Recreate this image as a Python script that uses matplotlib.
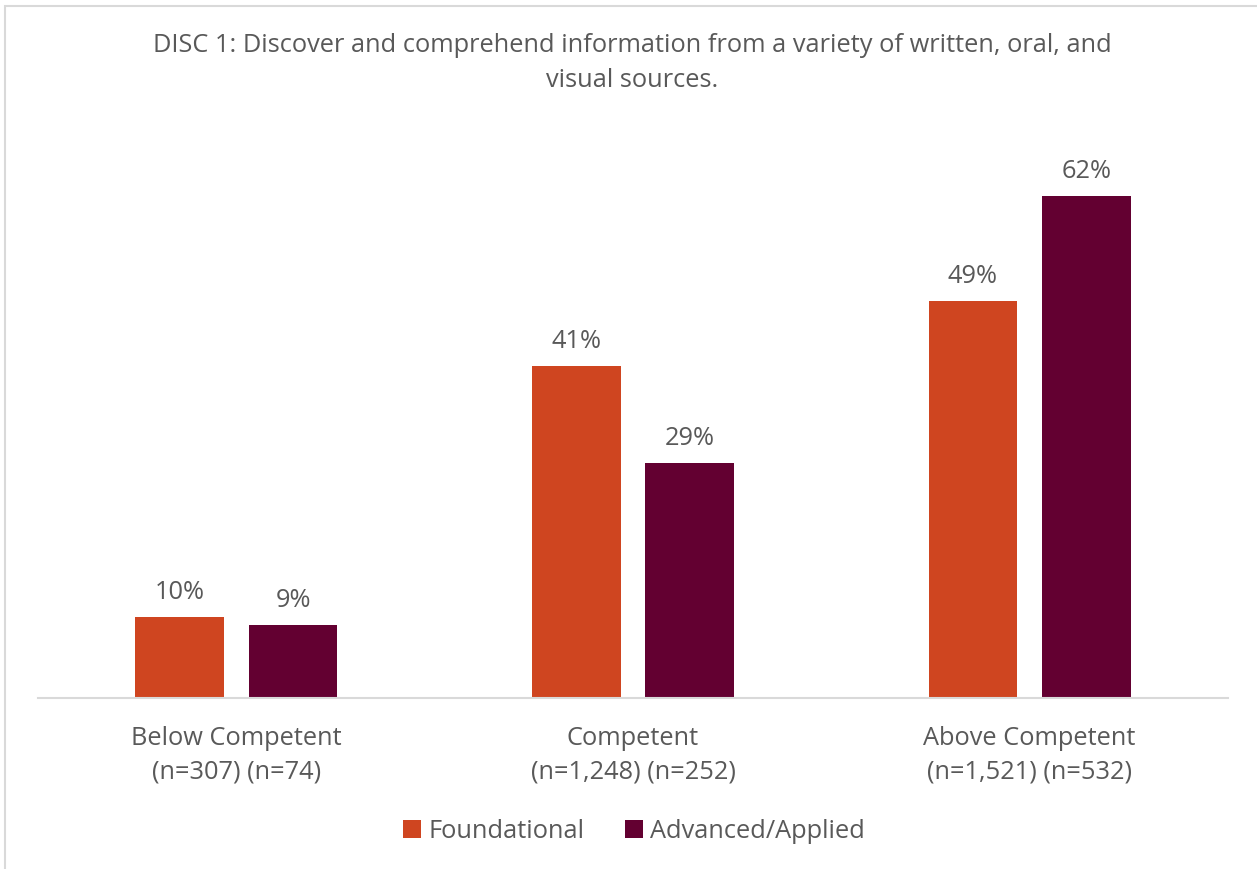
import matplotlib
matplotlib.use("Agg")
import matplotlib.pyplot as plt
import numpy as np
from matplotlib.patches import Rectangle

categories = ["Below Competent\n(n=307) (n=74)", "Competent\n(n=1,248) (n=252)", "Above Competent\n(n=1,521) (n=532)"]
foundational = [10, 41, 49]
advanced = [9, 29, 62]
series_names = ["Foundational", "Advanced/Applied"]
colors = ["#CF4520", "#630031"]
title = "DISC 1: Discover and comprehend information from a variety of written, oral, and\nvisual sources."

plt.rcParams['font.family'] = ['Open Sans', 'DejaVu Sans']
txt = "#595959"
fs = 18.3

fig = plt.figure(figsize=(12.57, 8.69), dpi=100)
W, H = 1257, 869
ax = fig.add_axes([38 / W, 1 - 698 / H, (1228 - 38) / W, 0.6])

x = np.arange(len(categories))
bw = 0.224
off = 0.143
b1 = ax.bar(x - off, foundational, bw, color=colors[0], label=series_names[0])
b2 = ax.bar(x + off, advanced, bw, color=colors[1], label=series_names[1])
for bars, vals in ((b1, foundational), (b2, advanced)):
    for r, v in zip(bars, vals):
        ax.annotate(f"{v}%", (r.get_x() + r.get_width() / 2, v), xytext=(0, 8.5),
                    textcoords="offset points", ha="center", va="bottom",
                    fontsize=fs, color=txt)

ax.set_xlim(-0.5, 2.5)
ax.set_ylim(0, 0.6 * H / 8.1)
ax.set_xticks(x)
ax.set_xticklabels(categories, fontsize=fs, color=txt, linespacing=1.45)
ax.tick_params(axis="x", length=0, pad=20)
ax.set_yticks([])
for s in ["top", "right", "left"]:
    ax.spines[s].set_visible(False)
ax.spines["bottom"].set_color("#D9D9D9")
ax.spines["bottom"].set_linewidth(1.5)

fig.text(632 / W, 1 - 63 / H, title, ha="center", va="center", fontsize=fs,
         color=txt, linespacing=1.5)

leg = fig.legend(handles=[b1, b2], labels=series_names, loc="center",
                 bbox_to_anchor=(634 / W, 1 - 831 / H), ncol=2, frameon=False,
                 fontsize=fs, handlelength=0.7, handleheight=0.7,
                 handletextpad=0.3, columnspacing=1.6, labelcolor=txt)

fig.patches.append(Rectangle((5 / W, -0.01), 1.0, 1 - 6 / H + 0.01, transform=fig.transFigure,
                             fill=False, edgecolor="#D9D9D9", linewidth=1.5))

fig.savefig("out.png", dpi=100)
